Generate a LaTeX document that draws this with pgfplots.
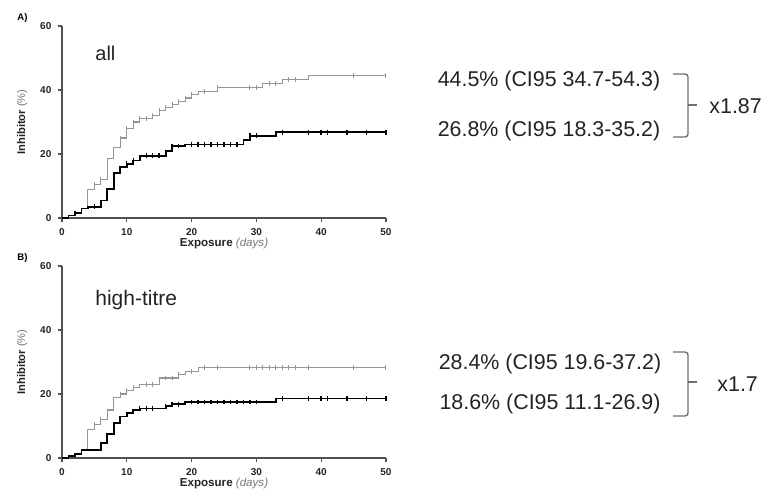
\documentclass[border=0pt]{standalone}
\usepackage{fontspec}
\setmainfont{Liberation Sans}
\usepackage{pgfplots}
\pgfplotsset{compat=1.18}
\definecolor{axgray}{RGB}{80,80,80}
\definecolor{kmgray}{RGB}{150,150,150}
\definecolor{brgray}{RGB}{110,110,110}
\definecolor{txtgray}{RGB}{35,35,35}
\definecolor{lblgray}{RGB}{120,120,120}

\pgfplotsset{km/.style={
  scale only axis, width=162pt, height=96pt,
  xmin=0, xmax=50, ymin=0, ymax=60,
  axis x line=bottom, axis y line=left,
  axis line style={-, axgray, line width=1pt},
  xtick={0,10,...,50}, ytick={0,20,40,60}, minor tick num=0,
  tick align=outside, major tick length=1.8pt,
  tick style={axgray, line width=0.6pt},
  tick label style={font=\fontsize{5}{5}\selectfont\bfseries, text=txtgray},
  /pgf/number format/assume math mode=true,
  clip=false,
  ylabel={\bfseries Inhibitor {\mdseries\color{lblgray}(\%)}},
  xlabel={\bfseries Exposure {\mdseries\itshape\color{lblgray}(days)}},
  every axis y label/.style={at={(axis description cs:-0.123,0.5)}, rotate=90, anchor=center,
    font=\fontsize{5.6}{6}\selectfont, text=txtgray},
  every axis x label/.style={at={(axis description cs:0.5,-0.135)}, anchor=center,
    font=\fontsize{5.8}{6}\selectfont, text=txtgray},
},
gl/.style={kmgray, line width=0.55pt, const plot, mark=none},
bl/.style={black, line width=0.9pt, const plot, mark=none},
gc/.style={kmgray, only marks, mark=|, mark size=1.2pt, mark options={line width=0.5pt}},
bc/.style={black, only marks, mark=|, mark size=1.2pt, mark options={line width=0.7pt}},
}

\begin{document}
\begin{tikzpicture}
\path (0pt,0pt) rectangle (384.5pt,-246.5pt);

% Panel A
\begin{axis}[km, at={(31pt,-109pt)}, anchor=south west]
\addplot[gl] coordinates {(0,0)(1,0.8)(2,1.5)(3,3)(4,9)(5,10.5)(6,12)(7,18.5)(8,22)(9,25)
  (10,28)(11,30)(12,31)(14,32)(15,33.5)(16,34.5)(17,35.5)(18,36.5)(19,37.5)(20,38.5)
  (21,39.5)(24,40.7)(31,42)(34,43.3)(38,44.5)(50,44.5)};
\addplot[bl] coordinates {(0,0)(1,0.8)(2,1.5)(3,3)(4,3.5)(6,5.5)(7,9)(8,14)(9,16)(10,17)
  (11,18)(12,19.5)(16,21)(17,22.5)(19,23)(28,24.5)(29,25.7)(33,26.8)(50,26.8)};
\addplot[gc] coordinates {(5,10.5)(6,12)(9,25)(10,28)(11,30)(12,31)(13,31)(14,32)(15,33.5)
  (16,34.5)(17,35.5)(18,36.5)(19,37.5)(20,38.5)(22,39.5)(24,40.7)(29,40.7)(30,40.7)
  (32,42)(33,42)(35,43.3)(36,43.3)(45,44.5)(50,44.5)};
\addplot[bc] coordinates {(2,1.5)(5,3.5)(10,17)(11,18)(13,19.5)(14,19.5)(15,19.5)(17,22.5)
  (18,22.5)(20,23)(21,23)(22,23)(23,23)(24,23)(25,23)(26,23)(27,23)(29,25.7)(30,25.7)
  (34,26.8)(38,26.8)(40,26.8)(41,26.8)(44,26.8)(47,26.8)(50,26.8)};
\end{axis}

% Panel B
\begin{axis}[km, at={(31pt,-229pt)}, anchor=south west]
\addplot[gl] coordinates {(0,0)(1,0.7)(2,1.3)(3,2.5)(4,9)(5,10.5)(6,12)(7,15)(8,19)(9,20)
  (10,21)(11,22)(12,23)(15,25)(18,26)(19,27)(21,28.4)(50,28.4)};
\addplot[bl] coordinates {(0,0)(1,0.7)(2,1.3)(3,2.5)(6,4.8)(7,7.5)(8,11)(9,13)(10,14)
  (11,15)(12,15.5)(16,16.2)(17,16.8)(19,17.5)(33,18.6)(50,18.6)};
\addplot[gc] coordinates {(5,10.5)(6,12)(9,20)(10,21)(11,22)(13,23)(14,23)(16,25)(17,25)
  (18,26)(20,27)(22,28.4)(24,28.4)(29,28.4)(30,28.4)(31,28.4)(32,28.4)(33,28.4)(34,28.4)
  (35,28.4)(36,28.4)(38,28.4)(45,28.4)(50,28.4)};
\addplot[bc] coordinates {(12,15.5)(13,15.5)(14,15.5)(16,16.2)(17,16.8)(18,16.8)(20,17.5)
  (21,17.5)(22,17.5)(23,17.5)(24,17.5)(25,17.5)(26,17.5)(27,17.5)(28,17.5)(29,17.5)
  (30,17.5)(34,18.6)(38,18.6)(40,18.6)(41,18.6)(44,18.6)(47,18.6)(50,18.6)};
\end{axis}

% panel letters and group labels
\node[anchor=base west, inner sep=0, font=\fontsize{4.8}{5}\selectfont\bfseries] at (8.5pt,-10pt) {A)};
\node[anchor=base west, inner sep=0, font=\fontsize{4.8}{5}\selectfont\bfseries] at (8.5pt,-130pt) {B)};
\node[anchor=base west, inner sep=0, font=\fontsize{10}{12}\selectfont, text=txtgray] at (47.5pt,-30pt) {all};
\node[anchor=base west, inner sep=0, font=\fontsize{10.5}{12}\selectfont, text=txtgray] at (47.5pt,-152.5pt) {high-titre};

% right-hand annotations
\begin{scope}[every node/.style={inner sep=0, font=\fontsize{10.7}{13}\selectfont, text=txtgray}]
\node[anchor=base] at (274.5pt,-43.4pt) {44.5\% (CI95 34.7-54.3)};
\node[anchor=base] at (274.5pt,-68pt) {26.8\% (CI95 18.3-35.2)};
\node[anchor=base west] at (354.5pt,-56.7pt) {x1.87};
\node[anchor=base] at (275pt,-184.7pt) {28.4\% (CI95 19.6-37.2)};
\node[anchor=base] at (275pt,-204.7pt) {18.6\% (CI95 11.1-26.9)};
\node[anchor=base west] at (358.5pt,-195.8pt) {x1.7};
\end{scope}
\begin{scope}[brgray, line width=0.7pt]
\draw[rounded corners=1.5pt] (336.5pt,-37pt) -- (344pt,-37pt) -- (344pt,-68.5pt) -- (336.5pt,-68.5pt);
\draw (344pt,-52.5pt) -- (348.5pt,-52.5pt);
\draw[rounded corners=1.5pt] (336.5pt,-176pt) -- (344pt,-176pt) -- (344pt,-208pt) -- (336.5pt,-208pt);
\draw (344pt,-191pt) -- (348.5pt,-191pt);
\end{scope}
\end{tikzpicture}
\end{document}
